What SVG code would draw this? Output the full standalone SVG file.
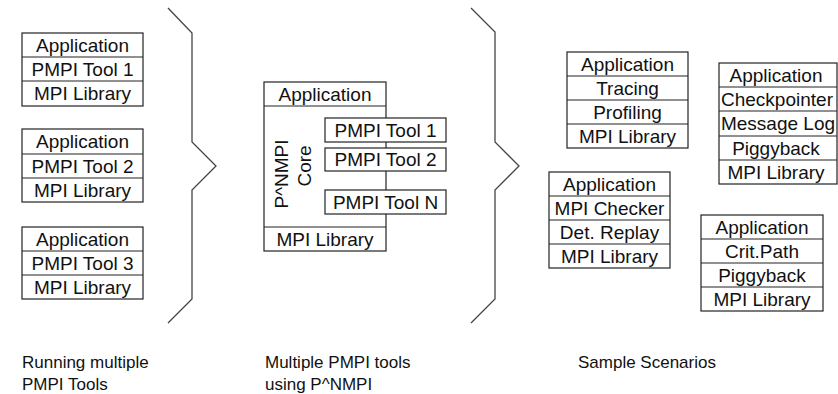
<svg xmlns="http://www.w3.org/2000/svg" width="838" height="394" viewBox="0 0 838 394">
  <style>
    .box { fill: #ffffff; stroke: #222222; stroke-width: 1.2; }
    .sep { stroke: #222222; stroke-width: 1.2; }
    .lbl { font-family: "Liberation Sans", Arial, sans-serif; font-size: 19px; fill: #111111; text-anchor: middle; }
    .cap { font-family: "Liberation Sans", Arial, sans-serif; font-size: 17px; fill: #111111; }
    .brace { fill: none; stroke: #444444; stroke-width: 1.3; }
  </style>
  <rect width="838" height="394" fill="#ffffff"/>

  <!-- left column: one stack per tool -->
  <g id="stack-tool1">
    <rect class="box" x="22" y="33" width="121" height="73"/>
    <line class="sep" x1="22" y1="57" x2="143" y2="57"/>
    <line class="sep" x1="22" y1="81" x2="143" y2="81"/>
    <text class="lbl" x="82.5" y="51.5">Application</text>
    <text class="lbl" x="82.5" y="75.5">PMPI Tool 1</text>
    <text class="lbl" x="82.5" y="99.5">MPI Library</text>
  </g>
  <g id="stack-tool2">
    <rect class="box" x="22" y="129" width="121" height="73"/>
    <line class="sep" x1="22" y1="154" x2="143" y2="154"/>
    <line class="sep" x1="22" y1="178" x2="143" y2="178"/>
    <text class="lbl" x="82.5" y="147.5">Application</text>
    <text class="lbl" x="82.5" y="172.5">PMPI Tool 2</text>
    <text class="lbl" x="82.5" y="196.5">MPI Library</text>
  </g>
  <g id="stack-tool3">
    <rect class="box" x="22" y="227" width="121" height="72"/>
    <line class="sep" x1="22" y1="251" x2="143" y2="251"/>
    <line class="sep" x1="22" y1="275" x2="143" y2="275"/>
    <text class="lbl" x="82.5" y="245.5">Application</text>
    <text class="lbl" x="82.5" y="269.5">PMPI Tool 3</text>
    <text class="lbl" x="82.5" y="293.5">MPI Library</text>
  </g>

  <!-- middle: P^NMPI core with stacked tools -->
  <g id="pnmpi-core">
    <rect class="box" x="264" y="82" width="122" height="169"/>
    <line class="sep" x1="264" y1="106" x2="386" y2="106"/>
    <line class="sep" x1="264" y1="227" x2="386" y2="227"/>
    <text class="lbl" x="325" y="100.5">Application</text>
    <text class="lbl" x="325" y="245.5">MPI Library</text>
    <text class="lbl" transform="translate(288,174) rotate(-90)">P^NMPI</text>
    <text class="lbl" transform="translate(311,166) rotate(-90)">Core</text>
  </g>
  <g id="tool-1">
    <rect class="box" x="325" y="118" width="121" height="24"/>
    <text class="lbl" x="385.5" y="136.5">PMPI Tool 1</text>
  </g>
  <g id="tool-2">
    <rect class="box" x="325" y="148" width="121" height="23"/>
    <text class="lbl" x="385.5" y="166">PMPI Tool 2</text>
  </g>
  <g id="tool-n">
    <rect class="box" x="325" y="190" width="121" height="24"/>
    <text class="lbl" x="385.5" y="208.5">PMPI Tool N</text>
  </g>

  <!-- right column: sample tool combinations -->
  <g id="scenario-tracing">
    <rect class="box" x="567" y="52" width="121" height="96"/>
    <line class="sep" x1="567" y1="76" x2="688" y2="76"/>
    <line class="sep" x1="567" y1="100" x2="688" y2="100"/>
    <line class="sep" x1="567" y1="124" x2="688" y2="124"/>
    <text class="lbl" x="627.5" y="70.5">Application</text>
    <text class="lbl" x="627.5" y="94.5">Tracing</text>
    <text class="lbl" x="627.5" y="118.5">Profiling</text>
    <text class="lbl" x="627.5" y="142.5">MPI Library</text>
  </g>
  <g id="scenario-checkpoint">
    <rect class="box" x="719" y="63" width="118" height="121"/>
    <line class="sep" x1="719" y1="87" x2="837" y2="87"/>
    <line class="sep" x1="719" y1="111" x2="837" y2="111"/>
    <line class="sep" x1="719" y1="136" x2="837" y2="136"/>
    <line class="sep" x1="719" y1="160" x2="837" y2="160"/>
    <text class="lbl" x="776" y="81.5">Application</text>
    <text class="lbl" x="777" y="105.5">Checkpointer</text>
    <text class="lbl" x="778" y="129.5">Message Log</text>
    <text class="lbl" x="776" y="154.5">Piggyback</text>
    <text class="lbl" x="776" y="178.5">MPI Library</text>
  </g>
  <g id="scenario-checker">
    <rect class="box" x="549" y="172" width="121" height="96"/>
    <line class="sep" x1="549" y1="196" x2="670" y2="196"/>
    <line class="sep" x1="549" y1="220" x2="670" y2="220"/>
    <line class="sep" x1="549" y1="244" x2="670" y2="244"/>
    <text class="lbl" x="609.5" y="190.5">Application</text>
    <text class="lbl" x="609.5" y="214.5">MPI Checker</text>
    <text class="lbl" x="609.5" y="238.5">Det. Replay</text>
    <text class="lbl" x="609.5" y="262.5">MPI Library</text>
  </g>
  <g id="scenario-critpath">
    <rect class="box" x="701" y="215" width="122" height="96"/>
    <line class="sep" x1="701" y1="239" x2="823" y2="239"/>
    <line class="sep" x1="701" y1="263" x2="823" y2="263"/>
    <line class="sep" x1="701" y1="287" x2="823" y2="287"/>
    <text class="lbl" x="762" y="233.5">Application</text>
    <text class="lbl" x="762" y="257.5">Crit.Path</text>
    <text class="lbl" x="762" y="281.5">Piggyback</text>
    <text class="lbl" x="762" y="305.5">MPI Library</text>
  </g>

  <!-- braces separating the three panels -->
  <g id="connectors">
    <polyline class="brace" points="168,8 192,33 192,142 216,166 192,190 192,299 168,323"/>
    <polyline class="brace" points="471,8 495,32 495,142 519,166 495,190 495,299 471,323"/>
  </g>

  <!-- panel captions -->
  <g id="captions">
    <text class="cap" x="22" y="368">Running multiple</text>
    <text class="cap" x="22" y="390">PMPI Tools</text>
    <text class="cap" x="265" y="368">Multiple PMPI tools</text>
    <text class="cap" x="265" y="390">using P^NMPI</text>
    <text class="cap" x="578" y="368">Sample Scenarios</text>
  </g>
</svg>
